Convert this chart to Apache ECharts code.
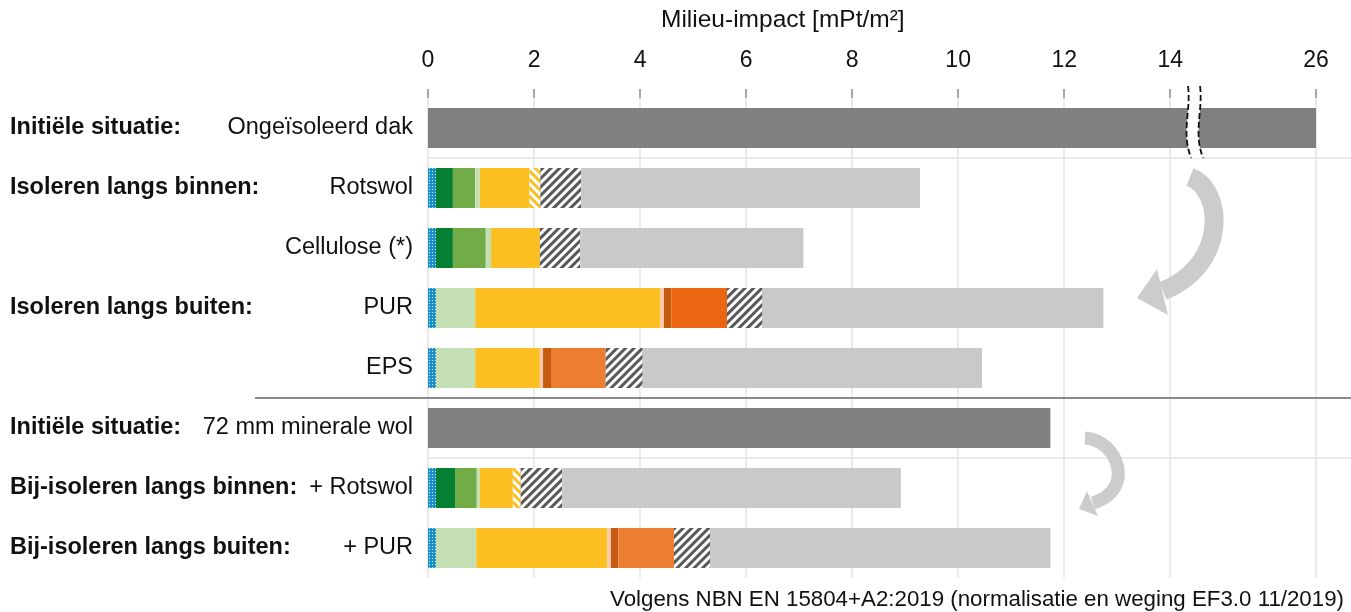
<!DOCTYPE html>
<html>
<head>
<meta charset="utf-8">
<script src="https://cdn.jsdelivr.net/npm/echarts@6/dist/echarts.min.js"></script>
<style>
  html, body { margin: 0; padding: 0; background: #fff; }
  #chart { width: 1351px; height: 612px; }
</style>
</head>
<body>
<div id="chart"></div>
<script>
// Row labels: bold group name (left) + variant (right)
const groups = ['Initiële situatie:', 'Isoleren langs binnen:', '', 'Isoleren langs buiten:', '', 'Initiële situatie:', 'Bij-isoleren langs binnen:', 'Bij-isoleren langs buiten:'];
const variants = ['Ongeïsoleerd dak', 'Rotswol', 'Cellulose (*)', 'PUR', 'EPS', '72 mm minerale wol', '+ Rotswol', '+ PUR'];

// Axis ticks (26 sits behind the axis break)
const tickValues = [0, 2, 4, 6, 8, 10, 12, 14, 26];
const BREAK_AT = 14.45;   // where the axis is cut
const BREAK_SKIP = 9.25;  // value range hidden by the cut

// Stacked segments per row [mPt/m²]
const INITIAL      = [26, 0, 0, 0, 0, 11.74, 0, 0];
const FINISH       = [0, 0.15, 0.15, 0.15, 0.15, 0, 0.15, 0.15];
const DARK_GREEN   = [0, 0.32, 0.32, 0, 0, 0, 0.36, 0];
const GREEN        = [0, 0.42, 0.62, 0, 0, 0, 0.41, 0];
const LIGHT_GREEN  = [0, 0.09, 0.10, 0.74, 0.74, 0, 0.06, 0.76];
const YELLOW       = [0, 0.93, 0.92, 3.49, 1.22, 0, 0.62, 2.47];
const YELLOW_HATCH = [0, 0.21, 0, 0, 0, 0, 0.15, 0];
const PEACH        = [0, 0, 0, 0.07, 0.06, 0, 0, 0.07];
const BROWN        = [0, 0, 0, 0.14, 0.15, 0, 0, 0.14];
const DEEP_ORANGE  = [0, 0, 0, 1.05, 0, 0, 0, 0];
const ORANGE       = [0, 0, 0, 0, 1.03, 0, 0, 1.05];
const GRAY_HATCH   = [0, 0.77, 0.76, 0.67, 0.70, 0, 0.78, 0.68];
const LIGHT_GRAY   = [0, 6.39, 4.21, 6.43, 6.40, 0, 6.39, 6.42];

const FONT = '"Liberation Sans", Arial, sans-serif';
const TEXT = '#111';
const LABEL_SIZE = 23.5;

const toAxis = (v) => (v > BREAK_AT ? v - BREAK_SKIP : v);
const fromAxis = (v) => (v > BREAK_AT ? v + BREAK_SKIP : v);

const dots = { color: 'rgba(255,255,255,0.8)', symbol: 'rect', symbolSize: 1, dashArrayX: [1, 2], dashArrayY: [1, 2] };
const stripes = (rot) => ({ color: '#fff', symbol: 'rect', symbolSize: 1, dashArrayX: [1, 0], dashArrayY: [2.5, 2.5], rotation: rot });

const segments = [
  { name: 'Initieel', data: INITIAL.map(toAxis), color: '#7f807f' },
  { name: 'Afwerking', data: FINISH, color: '#1b8fc8', decal: dots },
  { name: 'Groen donker', data: DARK_GREEN, color: '#057f33' },
  { name: 'Groen', data: GREEN, color: '#72ac47' },
  { name: 'Groen licht', data: LIGHT_GREEN, color: '#c5dfb4' },
  { name: 'Geel', data: YELLOW, color: '#fbbf22' },
  { name: 'Geel gearceerd', data: YELLOW_HATCH, color: '#fbbf22', decal: stripes(Math.PI / 4) },
  { name: 'Zalm', data: PEACH, color: '#f8cbad' },
  { name: 'Bruin', data: BROWN, color: '#c55a11' },
  { name: 'Oranje donker', data: DEEP_ORANGE, color: '#ea6610' },
  { name: 'Oranje', data: ORANGE, color: '#ed7d31' },
  { name: 'Grijs gearceerd', data: GRAY_HATCH, color: '#595959', decal: stripes(-Math.PI / 4) },
  { name: 'Grijs licht', data: LIGHT_GRAY, color: '#c9c9c9' },
];

const chart = echarts.init(document.getElementById('chart'));

chart.setOption({
  animation: false,
  textStyle: { fontFamily: FONT },
  title: [
    {
      text: 'Milieu-impact [mPt/m²]',
      left: 656, top: 3,
      textStyle: { fontFamily: FONT, fontSize: 24.5, fontWeight: 'normal', color: TEXT },
    },
    {
      text: 'Volgens NBN EN 15804+A2:2019 (normalisatie en weging EF3.0 11/2019)',
      right: 2, bottom: -4,
      textStyle: { fontFamily: FONT, fontSize: 22.3, fontWeight: 'normal', color: TEXT },
    },
  ],
  grid: { left: 255, right: 0, top: 98, bottom: 34 },
  xAxis: {
    type: 'value',
    position: 'top',
    min: -3.263,
    max: 17.41,
    axisLine: { lineStyle: { color: '#8a8a8a', width: 2 } },
    axisTick: { show: true, length: 9, customValues: tickValues.map(toAxis), lineStyle: { color: '#8a8a8a', width: 1.5 } },
    axisLabel: {
      customValues: tickValues.map(toAxis),
      margin: 26,
      fontSize: 23,
      color: TEXT,
      fontFamily: FONT,
      formatter: (v) => String(Math.round(fromAxis(v))),
    },
    splitLine: { show: true, lineStyle: { color: '#e3e3e3', width: 1.5 } },
  },
  yAxis: {
    type: 'category',
    inverse: true,
    data: variants,
    offset: -173,
    axisLine: { show: false, onZero: false },
    axisTick: { show: false },
    splitLine: { show: false },
    axisLabel: {
      margin: 15,
      width: 403,
      formatter: (value, idx) => `{g|${groups[idx]}}{n|${value}}`,
      rich: {
        g: { fontFamily: FONT, fontSize: LABEL_SIZE, fontWeight: 'bold', color: TEXT, align: 'left' },
        n: { fontFamily: FONT, fontSize: LABEL_SIZE, color: TEXT, align: 'right' },
      },
    },
  },
  series: segments.map((s) => ({
    name: s.name,
    type: 'bar',
    stack: 'total',
    barWidth: 40,
    data: s.data,
    itemStyle: { color: s.color, decal: s.decal },
    emphasis: { disabled: true },
  })),
});

// Decorations: separators, axis break, curved arrows
const px = (v) => chart.convertToPixel({ xAxisIndex: 0 }, v);
const py = (i) => chart.convertToPixel({ yAxisIndex: 0 }, i);
const between = (i) => (py(i) + py(i + 1)) / 2;

const bez = (p, t) => {
  const u = 1 - t;
  return [
    u * u * u * p[0][0] + 3 * u * u * t * p[1][0] + 3 * u * t * t * p[2][0] + t * t * t * p[3][0],
    u * u * u * p[0][1] + 3 * u * u * t * p[1][1] + 3 * u * t * t * p[2][1] + t * t * t * p[3][1],
  ];
};

const x0 = px(0);
const xb = px(BREAK_AT);
const axisY = 98;
const yTop = axisY - 12;
const yBot = between(0);
const breakCurve = (dx) => [[xb + dx - 6, yTop], [xb + dx - 3, yTop + 26], [xb + dx - 13, yTop + 46], [xb + dx - 3, yBot]];
const leftC = breakCurve(0);
const rightC = breakCurve(12);
const fillPts = [];
for (let t = 0; t <= 1.0001; t += 0.05) fillPts.push(bez(leftC, t));
for (let t = 1; t >= -0.0001; t -= 0.05) fillPts.push(bez(rightC, t));
const curveShape = (c) => ({ x1: c[0][0], y1: c[0][1], cpx1: c[1][0], cpy1: c[1][1], cpx2: c[2][0], cpy2: c[2][1], x2: c[3][0], y2: c[3][1] });

const hline = (xa, y, color) => ({
  type: 'line', z: 50, silent: true,
  shape: { x1: xa, y1: y, x2: 1351, y2: y },
  style: { stroke: color, lineWidth: color === '#8a8a8a' ? 2 : 1.5 },
});

const arrow = (curve, width, head) => [
  { type: 'bezierCurve', z: 60, silent: true, shape: curveShape(curve), style: { stroke: '#cccccc', lineWidth: width, fill: null } },
  { type: 'polygon', z: 60, silent: true, shape: { points: head }, style: { fill: '#cccccc' } },
];

chart.setOption({
  graphic: [
    hline(x0, between(0), '#e3e3e3'),
    hline(255, between(4), '#8a8a8a'),
    hline(x0, between(5), '#e3e3e3'),
    { type: 'polygon', z: 80, silent: true, shape: { points: fillPts }, style: { fill: '#fff' } },
    { type: 'bezierCurve', z: 81, silent: true, shape: curveShape(leftC), style: { stroke: '#111', lineWidth: 1.8, lineDash: [6, 3], fill: null } },
    { type: 'bezierCurve', z: 81, silent: true, shape: curveShape(rightC), style: { stroke: '#111', lineWidth: 1.8, lineDash: [6, 3], fill: null } },
    ...arrow([[1190, 177], [1224, 190], [1228, 265], [1163, 291]], 19, [[1137, 298], [1157, 269], [1168, 315]]),
    ...arrow([[1085, 438], [1118, 440], [1136, 490], [1093, 503]], 13, [[1079, 509], [1087, 491], [1098, 516]]),
  ],
});
</script>
</body>
</html>
